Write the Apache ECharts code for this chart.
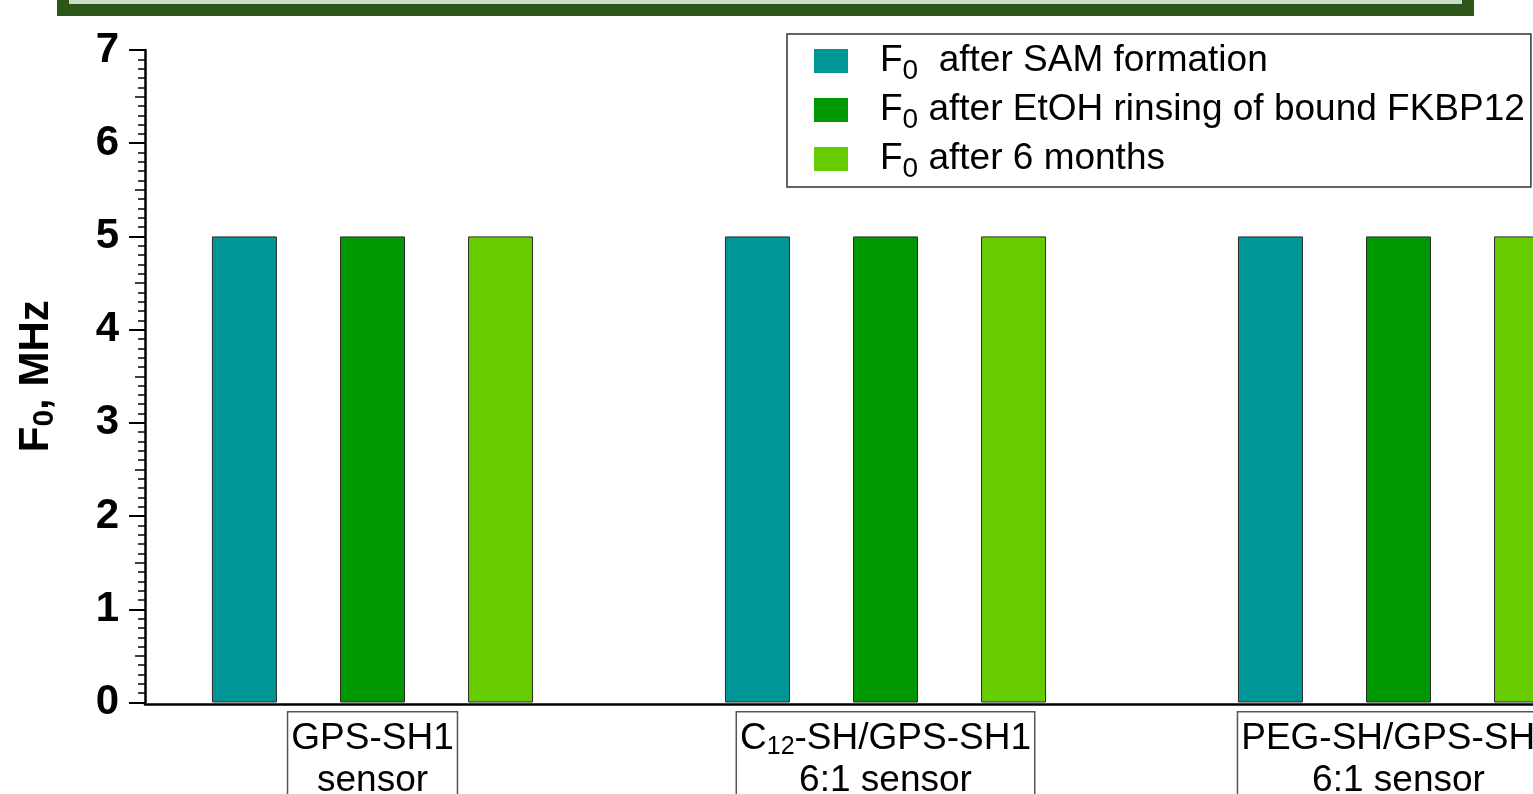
<!DOCTYPE html>
<html>
<head>
<meta charset="utf-8">
<title>Resonance frequency F0 of QCM sensors</title>
<script src="https://cdn.jsdelivr.net/npm/echarts@6/dist/echarts.min.js"></script>
<style>
  html, body { margin: 0; padding: 0; background: #ffffff; }
  #chart { width: 1533px; height: 794px; }
</style>
</head>
<body>
<div id="chart"></div>
<script>
// Sensor types along the x axis (two-line labels; "C12" gets a subscript)
const categories = [
  'GPS-SH1\nsensor',
  'C12-SH/GPS-SH1\n6:1 sensor',
  'PEG-SH/GPS-SH1\n6:1 sensor'
];

// Legend entries ("F0" is drawn with a subscript zero)
const seriesNames = [
  'F0  after SAM formation',
  'F0 after EtOH rinsing of bound FKBP12',
  'F0 after 6 months'
];

// Fundamental frequency F0, MHz
const afterSamFormation = [5, 5, 5];
const afterEtohRinsing = [5, 5, 5];
const afterSixMonths = [5, 5, 5];

// Value axis range and tick step
const yMin = 0;
const yMax = 7;
const yStep = 1;

const seriesColors = ['#009696', '#009800', '#66cc00'];
const seriesValues = [afterSamFormation, afterEtohRinsing, afterSixMonths];

const FONT = '"Liberation Sans", Arial, Helvetica, sans-serif';

function categoryRich(value) {
  return value.split('\n').map(function (line) {
    const m = line.match(/^C(\d+)(.*)$/);
    return m ? '{a|C}{s|' + m[1] + '}{a|' + m[2] + '}' : '{a|' + line + '}';
  }).join('\n');
}

function legendRich(name) {
  const m = name.match(/^F0(.*)$/);
  return m ? '{f|F}{s|0}{t|' + m[1] + '}' : '{t|' + name + '}';
}

const chart = echarts.init(document.getElementById('chart'), null, { renderer: 'canvas' });

const option = {
  backgroundColor: '#ffffff',
  animation: false,
  graphic: [
    {
      // framed banner across the top edge
      type: 'rect',
      silent: true,
      shape: { x: 63, y: -30, width: 1405, height: 40 },
      style: { fill: '#cddcc6', stroke: '#2c5719', lineWidth: 12 }
    }
  ],
  grid: [
    { left: 145, width: 1600, top: 50, bottom: 91.5, outerBoundsMode: 'none', containLabel: false },
    { left: 116, width: 1539, top: 50, bottom: 91.5, outerBoundsMode: 'none', containLabel: false }
  ],
  legend: {
    show: true,
    orient: 'vertical',
    left: 787,
    top: 34,
    selectedMode: false,
    data: seriesNames,
    icon: 'rect',
    itemWidth: 34,
    itemHeight: 24,
    itemGap: 1,
    padding: [3, 6, 4, 27],
    borderColor: '#333333',
    borderWidth: 1.5,
    backgroundColor: '#ffffff',
    itemStyle: { borderWidth: 0 },
    formatter: legendRich,
    textStyle: {
      fontFamily: FONT,
      color: '#000000',
      fontSize: 37,
      lineHeight: 40,
      rich: {
        f: { fontFamily: FONT, fontSize: 37, color: '#000', lineHeight: 40, padding: [0, 0, 0, 27] },
        s: { fontFamily: FONT, fontSize: 28, color: '#000', lineHeight: 40, padding: [20, 0, 0, 0] },
        t: { fontFamily: FONT, fontSize: 37, color: '#000', lineHeight: 40 }
      }
    }
  },
  xAxis: [
    {
      // baseline of the plot
      type: 'value',
      gridIndex: 0,
      min: 0,
      max: 1,
      axisLine: { show: true, onZero: false, lineStyle: { color: '#000000', width: 2.5 } },
      offset: 2,
      axisTick: { show: false },
      axisLabel: { show: false },
      splitLine: { show: false }
    },
    {
      type: 'category',
      gridIndex: 1,
      data: categories,
      boundaryGap: true,
      axisLine: { show: false },
      axisTick: { show: false },
      splitLine: { show: false },
      axisLabel: {
        show: true,
        interval: 0,
        margin: 10,
        formatter: categoryRich,
        borderColor: '#555555',
        borderWidth: 1.5,
        padding: [5, 3, 0, 3],
        backgroundColor: '#ffffff',
        rich: {
          a: { fontFamily: FONT, fontSize: 37, color: '#000', lineHeight: 42 },
          s: { fontFamily: FONT, fontSize: 25, color: '#000', lineHeight: 42, padding: [18, 0, 0, 0] }
        }
      }
    }
  ],
  yAxis: [
    {
      type: 'value',
      gridIndex: 0,
      min: yMin,
      max: yMax,
      interval: yStep,
      name: '{b|F}{bs|0}{b|, MHz}',
      nameLocation: 'middle',
      nameRotate: 90,
      nameGap: 86,
      nameTextStyle: {
        rich: {
          b: { fontFamily: FONT, fontWeight: 'bold', fontSize: 42, color: '#000', lineHeight: 46 },
          bs: { fontFamily: FONT, fontWeight: 'bold', fontSize: 30, color: '#000', lineHeight: 46, padding: [18, 0, 0, 0] }
        }
      },
      axisLine: { show: true, lineStyle: { color: '#000000', width: 2.5 } },
      axisTick: { show: true, inside: false, length: 16, lineStyle: { color: '#000000', width: 2 } },
      minorTick: { show: true, splitNumber: 10, length: 7, lineStyle: { color: '#000000', width: 1.5 } },
      axisLabel: {
        show: true,
        margin: 26,
        fontFamily: FONT,
        fontWeight: 'bold',
        fontSize: 42,
        color: '#000000'
      },
      splitLine: { show: false },
      minorSplitLine: { show: false }
    },
    {
      // half-unit ticks, slightly longer than the minor ones
      type: 'value',
      gridIndex: 0,
      min: yMin,
      max: yMax,
      interval: 0.5,
      position: 'left',
      axisLine: { show: false },
      axisTick: { show: true, inside: false, length: 10, lineStyle: { color: '#000000', width: 1.5 } },
      axisLabel: { show: false },
      splitLine: { show: false }
    },
    {
      type: 'value',
      gridIndex: 1,
      min: yMin,
      max: yMax,
      interval: yStep,
      show: false
    }
  ],
  series: seriesNames.map(function (name, i) {
    return {
      name: name,
      type: 'bar',
      xAxisIndex: 1,
      yAxisIndex: 2,
      data: seriesValues[i],
      barWidth: 65,
      barGap: '97%',
      itemStyle: { color: seriesColors[i], borderColor: '#2a2a2a', borderWidth: 1 }
    };
  })
};

chart.setOption(option);
</script>
</body>
</html>
